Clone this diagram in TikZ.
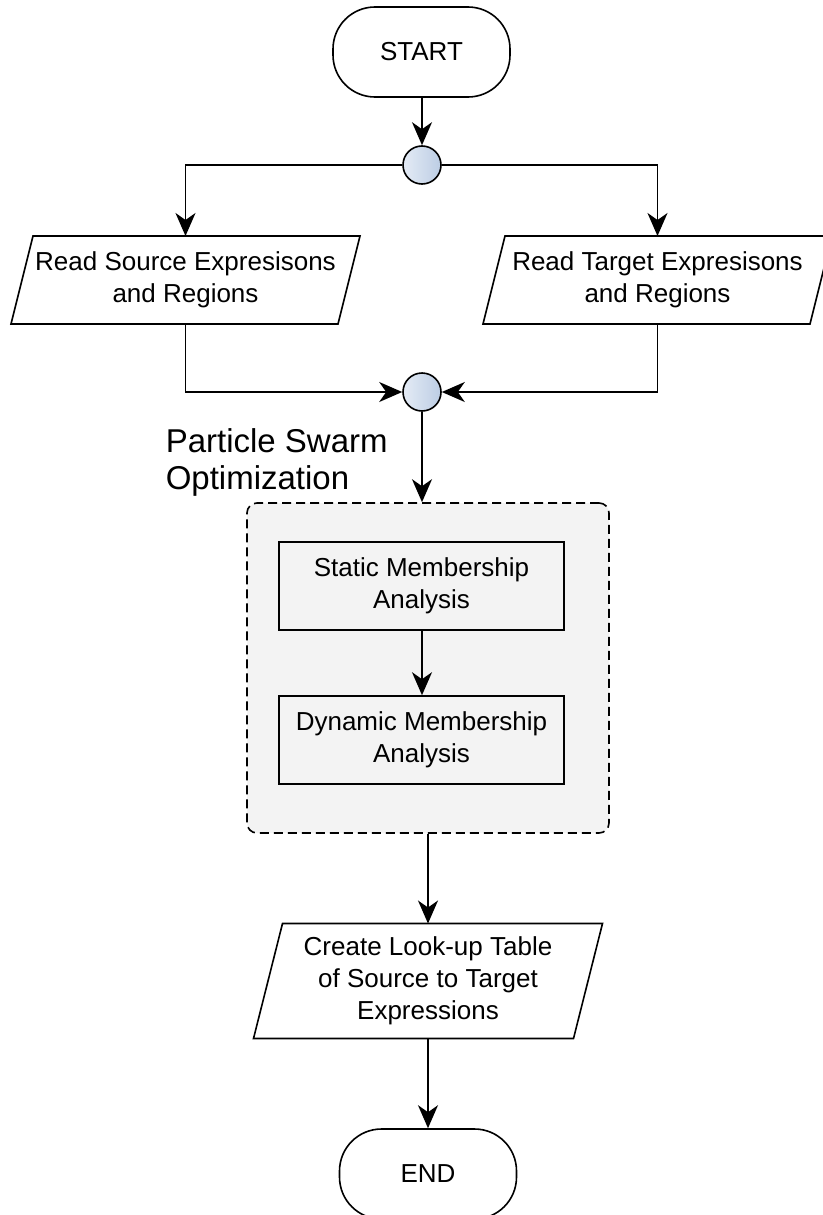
\documentclass[tikz,border=0pt]{standalone}
\usepackage{fontspec}
\setmainfont{Liberation Sans}
\usetikzlibrary{arrows.meta}

\definecolor{panelgray}{RGB}{243,243,243}
\definecolor{junclight}{RGB}{228,235,245}
\definecolor{juncdark}{RGB}{188,205,228}

% slanted input/output frame drawn around a named (invisible) node
\newcommand\slantframe[2]{%
  \draw ([xshift=#2]#1.north west) -- ([xshift=#2]#1.north east)
     -- ([xshift=-#2]#1.south east) -- ([xshift=-#2]#1.south west) -- cycle;}

\begin{document}
\begin{tikzpicture}[x=1pt,y=-1pt,
  line width=1.6pt,
  every node/.style={font=\fontsize{26}{32}\selectfont, align=center},
  flow/.style={draw, -{Stealth[length=23pt,width=20pt,inset=7pt]}},
  term/.style={draw, rectangle, rounded corners=42pt, minimum width=177pt, minimum height=90pt},
  junction/.style={circle, draw, minimum size=38pt, inner sep=0pt,
                   left color=junclight, right color=juncdark},
  iobox/.style={rectangle, inner sep=2pt, outer sep=0pt},
  procbox/.style={draw, rectangle, fill=panelgray, minimum width=285pt,
                  minimum height=88pt, inner sep=2pt},
  groupbox/.style={draw, rectangle, dash pattern=on 9pt off 5pt, rounded corners=10pt,
                   fill=panelgray, minimum width=362pt, minimum height=330pt},
]
\useasboundingbox (0,0) rectangle (822,1215);

% nodes
\node[term] (start) at (421.5,52) {START};
\node[junction] (split) at (422,165) {};
\node[iobox, minimum width=327pt, minimum height=88pt] (src) at (185.5,280)
  {Read Source Expresisons\\and Regions};
\node[iobox, minimum width=327pt, minimum height=88pt] (tgt) at (657.5,280)
  {Read Target Expresisons\\and Regions};
\node[junction] (merge) at (422,392) {};

\node[groupbox] (pso) at (428,668) {};
\node[font=\fontsize{33}{37}\selectfont, align=left, inner sep=0pt, anchor=west]
  (psolabel) at (165,462) {Particle Swarm\\Optimization};
\node[procbox] (static) at (421.5,586) {Static Membership\\Analysis};
\node[procbox] (dynamic) at (421.5,740) {Dynamic Membership\\Analysis};

\node[iobox, minimum width=320pt, minimum height=115pt] (table) at (428,981)
  {Create Look-up Table\\of Source to Target\\Expressions};
\node[term] (end) at (428,1174) {END};

% slanted frames of the input/output steps
\slantframe{src}{11pt}
\slantframe{tgt}{11pt}
\slantframe{table}{14.5pt}

% connectors
\draw[flow] (start.south -| split) -- (split.north);
\draw[flow] (split.west) -| (src.north);
\draw[flow] (split.east) -| (tgt.north);
\draw[flow] (src.south) |- (merge.west);
\draw[flow] (tgt.south) |- (merge.east);
\draw[flow] (merge.south) -- (merge.south |- pso.north);
\draw[flow] (static.south -| merge) -- (dynamic.north -| merge);
\draw[flow] (pso.south) -- (table.north);
\draw[flow] (table.south) -- (end.north);
\end{tikzpicture}
\end{document}
